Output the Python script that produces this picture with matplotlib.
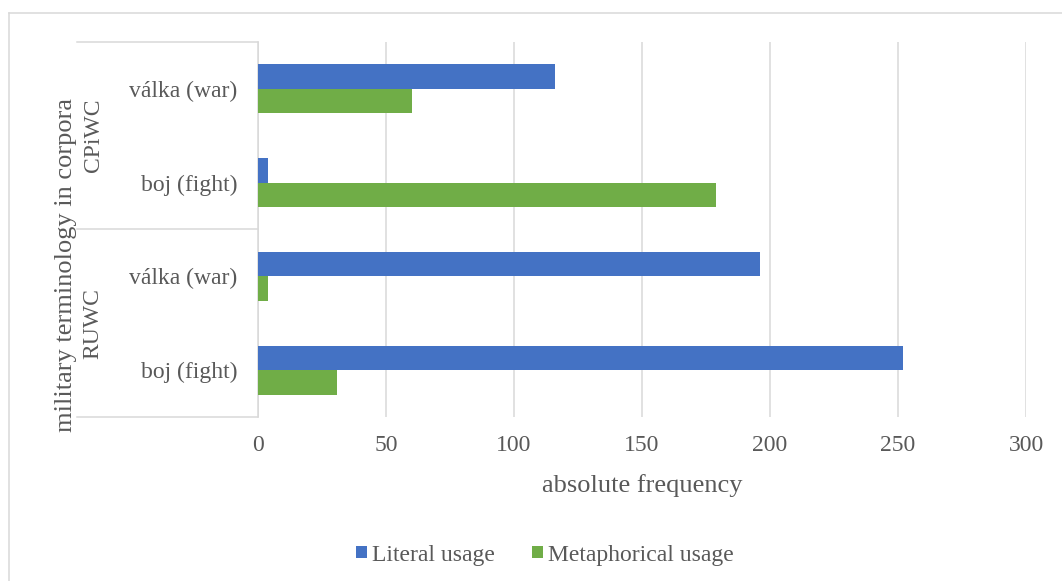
import matplotlib
matplotlib.use("Agg")
import matplotlib.pyplot as plt
import matplotlib.transforms as mtransforms
from matplotlib.lines import Line2D
from matplotlib.patches import Patch
import numpy as np

plt.rcParams['font.family'] = ['Liberation Serif', 'DejaVu Serif']

# Data: top-to-bottom order of categories
groups = ["CPiWC", "RUWC"]
terms = ["válka (war)", "boj (fight)", "válka (war)", "boj (fight)"]
literal = [116, 4, 196, 252]
metaphorical = [60, 179, 4, 31]
series_names = ["Literal usage", "Metaphorical usage"]
x_ticks = [0, 50, 100, 150, 200, 250, 300]

BLUE = "#4472C4"
GREEN = "#70AD47"
GRID = "#D9D9D9"
TEXT = "#595959"

W, H = 1062, 581
fig = plt.figure(figsize=(W / 100, H / 100), dpi=100)

# plot area in pixel coordinates
left_px, right_px, top_px, bottom_px = 258, 1026, 41.7, 417.3
ax = fig.add_axes([left_px / W, 1 - bottom_px / H,
                   (right_px - left_px) / W, (bottom_px - top_px) / H])

pos = np.arange(len(terms))
bh = 0.26
ax.barh(pos - bh / 2, literal, height=bh, color=BLUE, label=series_names[0], zorder=3)
ax.barh(pos + bh / 2, metaphorical, height=bh, color=GREEN, label=series_names[1], zorder=3)

ax.set_xlim(0, 300)
ax.set_ylim(len(terms) - 0.5, -0.5)
ax.set_xticks(x_ticks)
ax.set_xticklabels([str(t) for t in x_ticks])
ax.set_yticks(pos)
ax.set_yticklabels(terms)
ax.tick_params(axis='both', length=0, colors=TEXT, labelsize=17)
ax.tick_params(axis='x', pad=13)
ax.tick_params(axis='y', pad=15)
ax.xaxis.grid(True, color=GRID, linewidth=1.1, zorder=0)
ax.set_axisbelow(True)
for s in ["top", "right", "bottom"]:
    ax.spines[s].set_visible(False)
ax.spines["left"].set_color(GRID)
ax.spines["left"].set_linewidth(1.1)

ax.set_xlabel("absolute frequency", fontsize=19, color=TEXT, labelpad=13)

# multi-level category axis: group boxes and labels
blend = mtransforms.blended_transform_factory(ax.transAxes, ax.transData)
box_left = (77 - left_px) / (right_px - left_px)
for yb in [-0.5, 1.5, 3.5]:
    ax.add_line(Line2D([box_left, 0], [yb, yb], transform=blend, color=GRID,
                       linewidth=1.1, clip_on=False))
grp_x = (93 - left_px) / (right_px - left_px)
for gi, g in enumerate(groups):
    ax.text(grp_x, 2 * gi + 0.5, g, transform=blend, rotation=90,
            ha='center', va='center', fontsize=17, color=TEXT)

fig.text(66 / W, 1 - 265 / H, "military terminology in corpora", rotation=90,
         ha='center', va='center', fontsize=19, color=TEXT)

# chart area border
fig.add_artist(Line2D([8.5 / W, 1.0], [1 - 12.5 / H, 1 - 12.5 / H],
                      transform=fig.transFigure, color=GRID, linewidth=1.1))
fig.add_artist(Line2D([8.5 / W, 8.5 / W], [0.0, 1 - 12.5 / H],
                      transform=fig.transFigure, color=GRID, linewidth=1.1))

handles = [Patch(facecolor=BLUE), Patch(facecolor=GREEN)]
fig.legend(handles, series_names, loc='center', bbox_to_anchor=(545 / W, 1 - 555 / H),
           ncol=2, frameon=False, fontsize=17, labelcolor=TEXT,
           handlelength=0.45, handleheight=0.45, handletextpad=0.2, columnspacing=1.6)

fig.savefig("out.png", dpi=100, facecolor="white")
